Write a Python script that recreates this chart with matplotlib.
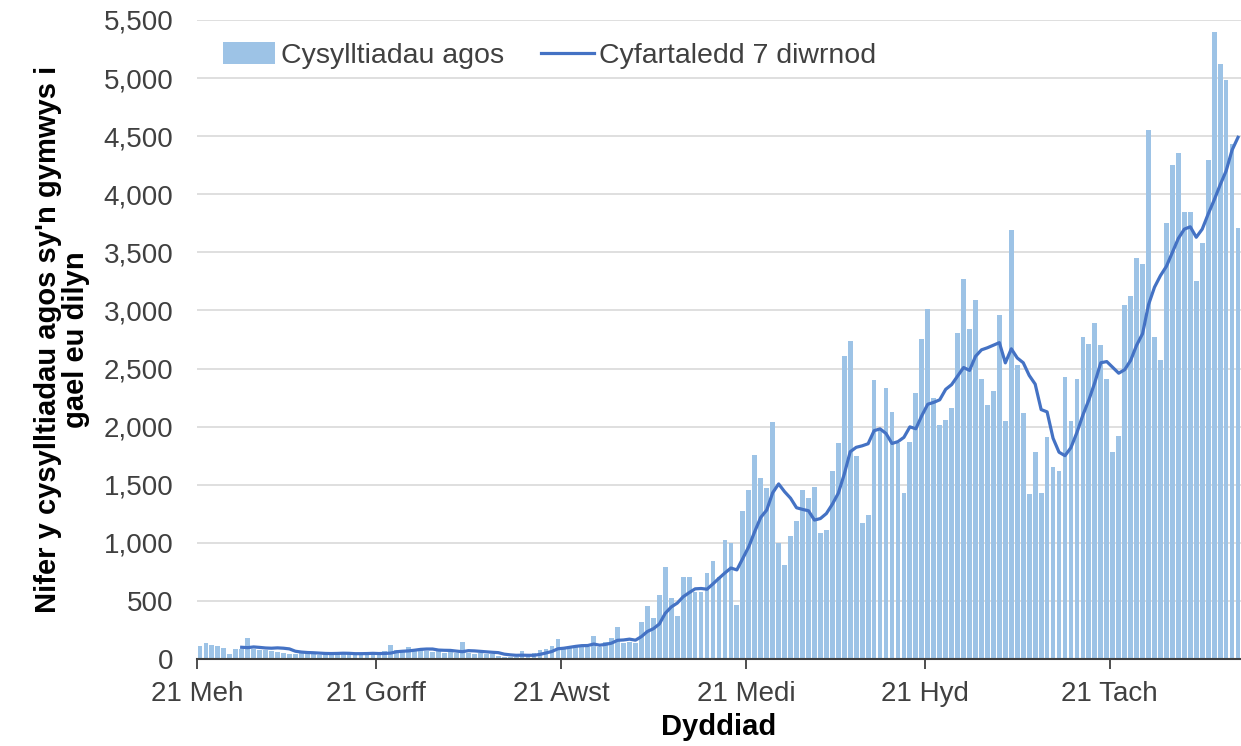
import numpy as np
import pandas as pd
import matplotlib
matplotlib.use("Agg")
import matplotlib.pyplot as plt
from matplotlib.ticker import FuncFormatter

plt.rcParams["font.family"] = ["Liberation Sans", "DejaVu Sans"]

start_date = "2020-06-21"

# daily close contacts eligible for follow-up
contacts = [
    115, 140, 120, 112, 92, 45, 85, 90, 185, 90,
    80, 75, 70, 60, 50, 45, 40, 55, 60, 50,
    35, 45, 50, 55, 45, 40, 50, 45, 55, 40,
    60, 70, 120, 80, 65, 100, 85, 80, 70, 60,
    65, 55, 60, 50, 145, 55, 45, 50, 45, 45,
    25, 15, 15, 20, 70, 45, 55, 75, 90, 110,
    175, 100, 105, 110, 115, 100, 200, 100, 150, 185,
    275, 140, 145, 140, 315, 460, 350, 555, 790, 525,
    370, 704, 704, 580, 580, 744, 845, 710, 1026, 997,
    466, 1276, 1451, 1759, 1557, 1471, 2037, 997, 810, 1055,
    1190, 1457, 1385, 1480, 1083, 1112, 1615, 1859, 2606, 2736,
    1744, 1170, 1241, 2400, 1970, 2329, 2129, 1857, 1429, 1871,
    2291, 2757, 3014, 2243, 2014, 2057, 2157, 2806, 3271, 2843,
    3086, 2406, 2186, 2309, 2963, 2051, 3691, 2529, 2120, 1423,
    1786, 1429, 1909, 1650, 1615, 2429, 2050, 2407, 2770, 2708,
    2888, 2702, 2407, 1786, 1919, 3043, 3121, 3453, 3401, 4550,
    2773, 2571, 3752, 4255, 4355, 3848, 3848, 3255, 3582, 4291,
    5397, 5124, 4982, 4433, 3706,
]

# 7-day average line, starting on the 7th day
avg7 = [
    101, 98, 104, 100, 95, 93, 96, 93, 87, 67,
    60, 56, 54, 51, 48, 47, 48, 50, 49, 46,
    46, 47, 49, 47, 48, 51, 63, 67, 70, 76,
    83, 86, 86, 77, 75, 74, 68, 63, 72, 70,
    66, 62, 58, 55, 42, 36, 32, 33, 32, 32,
    40, 52, 65, 88, 93, 101, 109, 115, 116, 129,
    119, 126, 137, 161, 164, 171, 162, 193, 237, 261,
    301, 394, 448, 481, 536, 571, 604, 607, 601, 647,
    695, 741, 783, 767, 866, 967, 1098, 1219, 1282, 1431,
    1507, 1440, 1384, 1302, 1288, 1276, 1196, 1209, 1252, 1332,
    1427, 1591, 1784, 1822, 1835, 1853, 1965, 1981, 1941, 1855,
    1871, 1908, 1998, 1982, 2095, 2193, 2209, 2231, 2321, 2362,
    2435, 2509, 2484, 2605, 2661, 2679, 2701, 2723, 2549, 2670,
    2591, 2550, 2441, 2366, 2147, 2127, 1900, 1780, 1750, 1820,
    1950, 2100, 2230, 2380, 2550, 2560, 2510, 2460, 2490, 2570,
    2700, 2800, 3050, 3200, 3300, 3380, 3500, 3620, 3700, 3720,
    3630, 3700, 3830, 3950, 4080, 4200, 4380, 4490,
]

tick_dates = ["2020-06-21", "2020-07-21", "2020-08-21",
              "2020-09-21", "2020-10-21", "2020-11-21"]
tick_labels = ["21 Meh", "21 Gorff", "21 Awst", "21 Medi", "21 Hyd", "21 Tach"]

days = pd.date_range(start_date, periods=len(contacts))
centres = days + pd.Timedelta(hours=12)

fig = plt.figure(figsize=(12.41, 7.46), dpi=100)
ax = fig.add_axes([0.1587, 0.1166, 0.8413, 0.8566])

bars = ax.bar(centres, contacts, width=0.8, color="#9dc3e6", label="Cysylltiadau agos", zorder=2)
line, = ax.plot(centres[len(contacts) - len(avg7):], avg7, color="#4472c4", lw=2.3,
                label="Cyfartaledd 7 diwrnod", zorder=3)

ax.set_xlim(days[0], days[-1] + pd.Timedelta(days=1))
ax.set_ylim(0, 5500)
ax.set_yticks(np.arange(0, 5501, 500))
ax.yaxis.set_major_formatter(FuncFormatter(lambda v, p: f"{int(v):,}"))
ax.set_xticks(pd.to_datetime(tick_dates))
ax.set_xticklabels(tick_labels)

ax.grid(axis="y", color="#d9d9d9", lw=1.2, zorder=0)
for s in ("left", "right", "top"):
    ax.spines[s].set_visible(False)
ax.spines["bottom"].set_color("#404040")
ax.spines["bottom"].set_linewidth(1.5)
ax.tick_params(axis="y", length=0, labelsize=20, labelcolor="#404040", pad=17)
ax.tick_params(axis="x", length=7, width=1.3, color="#404040", labelsize=20,
               labelcolor="#404040", pad=9)

ax.set_ylabel("Nifer y cysylltiadau agos sy'n gymwys i\ngael eu dilyn",
              fontsize=21, fontweight="bold", labelpad=10, linespacing=1.0)
ax.set_xlabel("Dyddiad", fontsize=21, fontweight="bold", labelpad=4)

ax.legend([bars, line], ["Cysylltiadau agos", "Cyfartaledd 7 diwrnod"],
          loc="upper left", bbox_to_anchor=(0.0, 1.005), ncol=2, frameon=False,
          fontsize=20.5, handlelength=1.85, handleheight=0.8, columnspacing=1.3,
          handletextpad=0.2, labelcolor="#404040")

fig.savefig("out.png", dpi=100)
